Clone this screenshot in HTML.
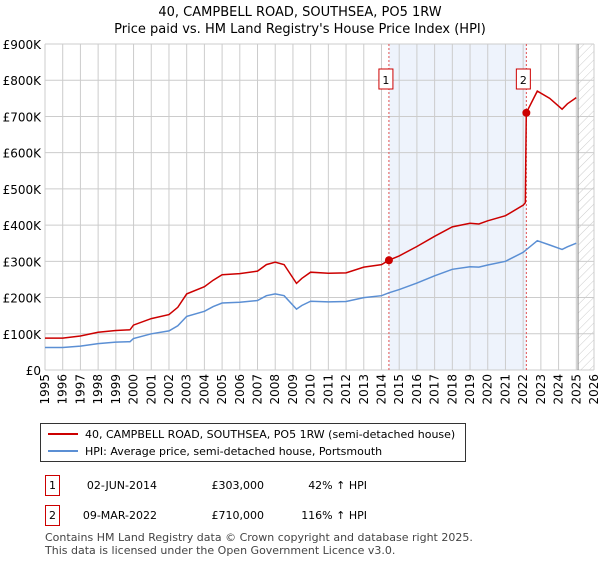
<!DOCTYPE html>
<html><head><meta charset="utf-8"><style>
body{margin:0;background:#fff;font-family:"Liberation Sans","DejaVu Sans",sans-serif;}
svg text{font-family:"DejaVu Sans","Liberation Sans",sans-serif;}
</style></head><body>
<svg id="c" width="600" height="560" xmlns="http://www.w3.org/2000/svg">
<defs><pattern id="hatch" width="6" height="6" patternUnits="userSpaceOnUse" patternTransform="rotate(45)"><line x1="0" y1="0" x2="0" y2="6" stroke="#ccc" stroke-width="1"/></pattern></defs>
<text x="300" y="16" text-anchor="middle" font-size="13">40, CAMPBELL ROAD, SOUTHSEA, PO5 1RW</text>
<text x="300" y="33" text-anchor="middle" font-size="13">Price paid vs. HM Land Registry's House Price Index (HPI)</text>
<g id="grid"></g><g id="plot"></g>
</svg>
<script>
const hpiDates=[1995,1996,1997,1998,1999,1999.8,2000,2001,2002,2002.5,2003,2004,2004.5,2005,2006,2007,2007.5,2008,2008.5,2009.2,2009.5,2010,2011,2012,2013,2014,2014.42,2015,2016,2017,2018,2019,2019.5,2020,2021,2022,2022.8,2023.5,2024.2,2024.5,2025];
const hpiValues=[62,62,66,73,77,78,87,100,108,122,148,162,175,185,187,192,205,210,205,168,178,190,188,189,200,205,213,222,240,260,278,285,284,290,300,325,357,345,333,340,350];
const priceDates=[1995,1996,1997,1998,1999,1999.8,2000,2001,2002,2002.5,2003,2004,2004.5,2005,2006,2007,2007.5,2008,2008.5,2009.2,2009.5,2010,2011,2012,2013,2014,2014.42,2015,2016,2017,2018,2019,2019.5,2020,2021,2022,2022.12,2022.18,2022.8,2023.5,2024.2,2024.5,2025];
const priceValues=[88,88,94,104,109,111,124,142,153,173,210,230,248,263,266,273,291,298,291,239,253,270,267,268,284,291,303,315,341,369,395,405,403,412,426,455,462,710,770,750,720,735,752];
const saleDates=[2014.42,2022.18];
const saleValues=[303,710];
const yTicks=[0,100,200,300,400,500,600,700,800,900];
const yTickLabels=["£0","£100K","£200K","£300K","£400K","£500K","£600K","£700K","£800K","£900K"];
const xYears=[1995,1996,1997,1998,1999,2000,2001,2002,2003,2004,2005,2006,2007,2008,2009,2010,2011,2012,2013,2014,2015,2016,2017,2018,2019,2020,2021,2022,2023,2024,2025,2026];
const L=45,R=594,T=44,B=370;
const x=d=>L+(d-1995)/(2026-1995)*(R-L);
const y=v=>B-v/900*(B-T);
const NS="http://www.w3.org/2000/svg";
const svg=document.getElementById('c'),grid=document.getElementById('grid'),plot=document.getElementById('plot');
function mk(tag,attrs,parent){const e=document.createElementNS(NS,tag);for(const k in attrs)e.setAttribute(k,attrs[k]);parent.appendChild(e);return e;}
let r=mk('rect',{x:x(saleDates[0]),y:T,width:x(saleDates[1])-x(saleDates[0]),height:B-T,fill:'#eef3fc'},grid);


let h=mk('rect',{x:x(2025.1),y:T,width:R-x(2025.1),height:B-T,fill:'url(#hatch)'},grid);


yTicks.forEach((v,i)=>{
 mk('line',{x1:L,x2:R,y1:y(v),y2:y(v),stroke:'#ccc','stroke-width':1},grid);
 const t=mk('text',{x:L-4,y:y(v)+5,'text-anchor':'end','font-size':12},grid);
 t.textContent=yTickLabels[i];
 
 
});
xYears.forEach(yr=>{
 mk('line',{x1:x(yr),x2:x(yr),y1:T,y2:B,stroke:'#ccc','stroke-width':1},grid);
 const t=mk('text',{x:0,y:0,'text-anchor':'end','font-size':12,transform:`translate(${x(yr)+4},${B+4}) rotate(-90)`},grid);
 t.textContent=yr;
 
 
});
mk('line',{x1:x(2025.1),x2:x(2025.1),y1:T,y2:B,stroke:'#888','stroke-width':1},grid);
saleDates.forEach((d,i)=>{
 const l=mk('line',{x1:x(d),x2:x(d),y1:T,y2:B,stroke:'#e05050','stroke-width':1,'stroke-dasharray':'2,2'},grid);
 
 
 const g=mk('g',{},plot);
 
 
 mk('rect',{x:x(d)-10,y:69,width:14,height:20,fill:'#fff',stroke:'#c00'},g);
 const t=mk('text',{x:x(d)-3,y:84,'text-anchor':'middle','font-size':11},g);t.textContent=i+1;
});
function line(ds,vs,col,name){const p=mk('path',{d:ds.map((d,i)=>(i?'L':'M')+x(d).toFixed(1)+','+y(vs[i]).toFixed(1)).join(''),fill:'none',stroke:col,'stroke-width':1.5},plot);
 
 }
line(hpiDates,hpiValues,'#5b8fd4','hpi-line');
line(priceDates,priceValues,'#cc0000','price-line');
saleDates.forEach((d,i)=>{const c=mk('circle',{cx:x(d),cy:y(saleValues[i]),r:4,fill:'#cc0000'},plot);
 
 });
// legend
const lg=mk('g',{},svg);


mk('rect',{x:40.5,y:423.5,width:425,height:38,fill:'#fff',stroke:'#333'},lg);
mk('line',{x1:48,x2:78,y1:434,y2:434,stroke:'#cc0000','stroke-width':2},lg);
mk('line',{x1:48,x2:78,y1:451,y2:451,stroke:'#5b8fd4','stroke-width':2},lg);
let t1=mk('text',{x:85,y:438,'font-size':11},lg);t1.textContent='40, CAMPBELL ROAD, SOUTHSEA, PO5 1RW (semi-detached house)';
let t2=mk('text',{x:85,y:455,'font-size':11},lg);t2.textContent='HPI: Average price, semi-detached house, Portsmouth';
const rows=[['1','02-JUN-2014','£303,000','42% ↑ HPI',475],['2','09-MAR-2022','£710,000','116% ↑ HPI',505]];
rows.forEach(rw=>{const g=mk('g',{},svg);
 
 
 const top=rw[4];
 mk('rect',{x:45.5,y:top+0.5,width:14,height:20,fill:'#fff',stroke:'#c00'},g);
 let a=mk('text',{x:52.5,y:top+14,'text-anchor':'middle','font-size':11},g);a.textContent=rw[0];
 let b=mk('text',{x:157,y:top+14,'text-anchor':'end','font-size':11},g);b.textContent=rw[1];
 let c=mk('text',{x:264,y:top+14,'text-anchor':'end','font-size':11},g);c.textContent=rw[2];
 let d=mk('text',{x:367,y:top+14,'text-anchor':'end','font-size':11},g);d.textContent=rw[3];
});
let f1=mk('text',{x:45,y:541,'font-size':11,fill:'#444'},svg);f1.textContent='Contains HM Land Registry data © Crown copyright and database right 2025.';

let f2=mk('text',{x:45,y:554,'font-size':11,fill:'#444'},svg);f2.textContent='This data is licensed under the Open Government Licence v3.0.';

</script>
</body></html>
